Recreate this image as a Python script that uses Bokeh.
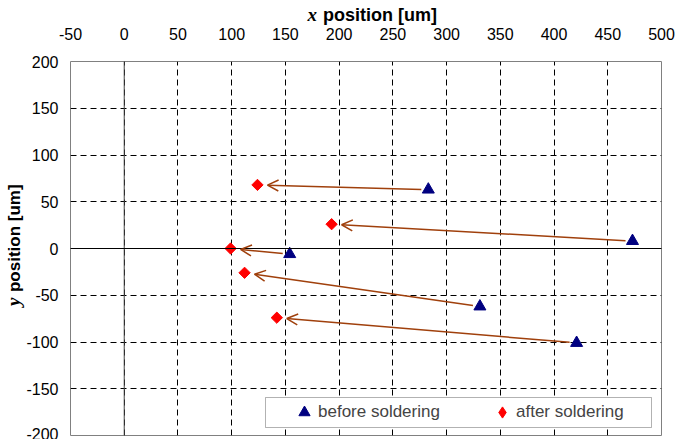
import math
from bokeh.plotting import figure
from bokeh.models import (Range1d, FixedTicker, Span, Arrow, OpenHead, Legend, LegendItem,
                          LinearAxis, BoxAnnotation, ColumnDataSource)
from bokeh.embed import file_html
from bokeh.resources import INLINE

# ---- data ----
x_ticks = [-50, 0, 50, 100, 150, 200, 250, 300, 350, 400, 450, 500]
y_ticks = [-200, -150, -100, -50, 0, 50, 100, 150, 200]
before_x = [283, 473, 154, 331, 421]
before_y = [63, 8, -6, -62, -101]
after_x = [124, 193, 99, 112, 142]
after_y = [68, 26, 0, -26, -74]
series_names = ["before soldering", "after soldering"]
x_title = ["x", "position [um]"]
y_title = ["y", "position [um]"]

# ---- layout ----
W, H = 692, 439
L, R, T, B = 70, 661, 61, 435
XMIN, XMAX, YMIN, YMAX = -50, 500, -200, 200
NAVY = "#000080"
RED = "#FF0000"
BROWN = "#A0400C"
FONT = "Liberation Sans"
SERIF = "Liberation Serif"


def px_to_x(px):
    return XMIN + (px - L) * (XMAX - XMIN) / (R - L)


def py_to_y(py):
    return YMAX - (py - T) * (YMAX - YMIN) / (B - T)


def x_to_px(x):
    return L + (x - XMIN) * (R - L) / (XMAX - XMIN)


def y_to_py(y):
    return T + (YMAX - y) * (B - T) / (YMAX - YMIN)


p = figure(width=W, height=H, x_range=Range1d(XMIN, XMAX), y_range=Range1d(YMIN, YMAX),
           x_axis_location="above", output_backend="svg", toolbar_location=None,
           min_border_left=0, min_border_right=W - R, min_border_top=0,
           min_border_bottom=H - B)
p.background_fill_color = "white"
p.border_fill_color = "white"
p.outline_line_color = "#808080"
p.outline_line_width = 1


def plain_axis(ax):
    ax.axis_line_color = None
    ax.major_tick_line_color = None
    ax.minor_tick_line_color = None
    ax.major_tick_out = 0
    ax.major_tick_in = 0
    ax.minor_tick_out = 0
    ax.minor_tick_in = 0
    ax.major_label_text_color = "black"


p.xaxis.ticker = FixedTicker(ticks=x_ticks)
p.yaxis.ticker = FixedTicker(ticks=y_ticks)
p.xaxis.major_label_overrides = {t: str(t) for t in x_ticks}
p.yaxis.major_label_overrides = {t: str(t) for t in y_ticks}
for ax in (p.xaxis[0], p.yaxis[0]):
    plain_axis(ax)
    ax.major_label_text_font = FONT
    ax.major_label_text_font_size = "16px"
p.xaxis.major_label_standoff = 22
p.yaxis.major_label_standoff = 12


# axis titles as single-label axes stacked outside the tick labels
def title_axis(side, tick, text, font, style, size, standoff, orient=None):
    ax = LinearAxis(ticker=FixedTicker(ticks=[tick]),
                    major_label_overrides={tick: text})
    plain_axis(ax)
    ax.major_label_text_font = font
    ax.major_label_text_font_style = style
    ax.major_label_text_font_size = size
    ax.major_label_standoff = standoff
    if orient is not None:
        ax.major_label_orientation = orient
    p.add_layout(ax, side)
    return ax


title_axis("above", round(px_to_x(380)), x_title[1], FONT, "bold", "18px", 0)
title_axis("above", round(px_to_x(311.5)), x_title[0], SERIF, "bold italic", "19px", -23)
title_axis("left", round(py_to_y(237.5)), y_title[1], FONT, "bold", "17px", -1, "vertical")
title_axis("left", round(py_to_y(301.5)), y_title[0], SERIF, "bold italic", "19px", -22,
           "vertical")

p.xgrid.ticker = FixedTicker(ticks=x_ticks)
p.ygrid.ticker = FixedTicker(ticks=y_ticks)
for g in (p.xgrid[0], p.ygrid[0]):
    g.grid_line_color = "black"
    g.grid_line_dash = "6 4"
    g.grid_line_width = 1

# axis lines through the origin
p.add_layout(Span(location=0, dimension="height", line_color="#404040", line_width=1))
p.add_layout(Span(location=0, dimension="width", line_color="black", line_width=1))

# arrows from before -> after, shortened in screen space
xs, ys, xe, ye = [], [], [], []
for bx, by, axx, ayy in zip(before_x, before_y, after_x, after_y):
    sx, sy = x_to_px(bx), y_to_py(by)
    ex, ey = x_to_px(axx), y_to_py(ayy)
    d = math.hypot(ex - sx, ey - sy)
    ux, uy = (ex - sx) / d, (ey - sy) / d
    xs.append(px_to_x(sx + ux * 7))
    ys.append(py_to_y(sy + uy * 7))
    xe.append(px_to_x(ex - ux * 10))
    ye.append(py_to_y(ey - uy * 10))
arrow_src = ColumnDataSource(dict(xs=xs, ys=ys, xe=xe, ye=ye))

r1 = p.scatter(before_x, before_y, marker="triangle", size=12,
               fill_color=NAVY, line_color=NAVY)
r2 = p.scatter(after_x, after_y, marker="square", angle=math.pi / 4, size=8,
               fill_color=RED, line_color=RED)
# legend-only glyph (legend glyphs are never rotated)
r2_leg = p.scatter(after_x, after_y, marker="diamond", fill_color=RED, line_color=RED,
                   visible=False)

p.add_layout(Arrow(source=arrow_src, x_start="xs", y_start="ys", x_end="xe", y_end="ye",
                   line_color=BROWN, line_width=1.5,
                   end=OpenHead(size=11, line_color=BROWN, line_width=1.5)))

# legend box + legend
p.add_layout(BoxAnnotation(left=px_to_x(265), right=px_to_x(651), top=py_to_y(397),
                           bottom=py_to_y(427), fill_color="white", fill_alpha=1,
                           line_color="black", line_width=1, level="annotation"))
legend = Legend(items=[LegendItem(label=series_names[0], renderers=[r1]),
                       LegendItem(label=series_names[1], renderers=[r2_leg])],
                orientation="horizontal", location=(219, 8), padding=1, spacing=48,
                glyph_width=28, glyph_height=28, label_standoff=-4, label_width=122,
                label_text_font=FONT, label_text_font_size="17px",
                border_line_alpha=0, background_fill_alpha=0)
p.add_layout(legend)

open("out.html", "w").write(file_html(p, INLINE))
